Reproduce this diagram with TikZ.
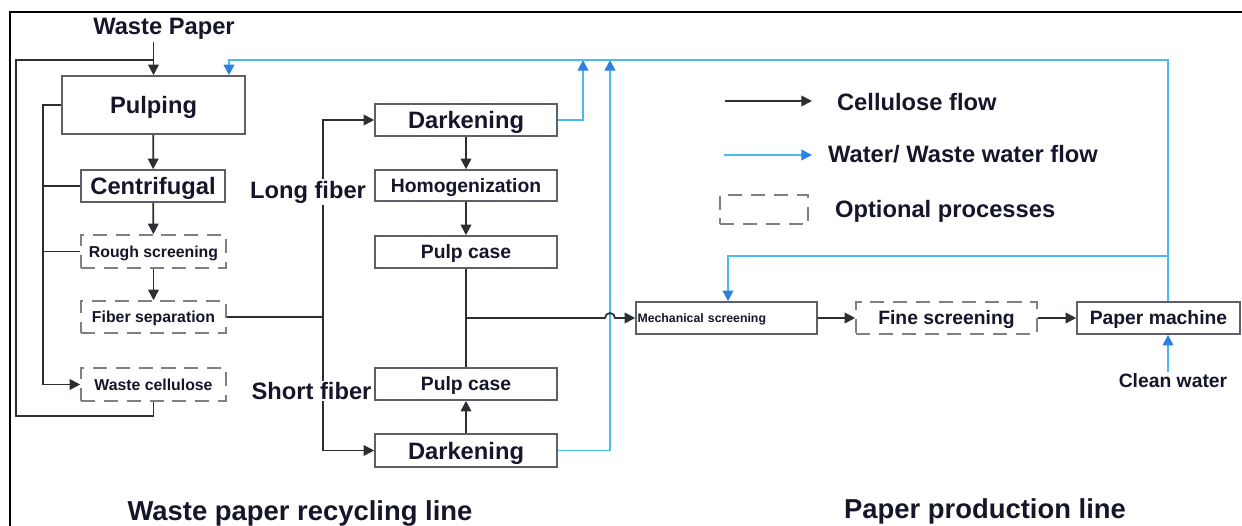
\documentclass[tikz,border=0pt]{standalone}
\usepackage{fontspec}
\setmainfont{Liberation Sans}
\usepackage{xcolor}
\usepackage{tikz}
\usetikzlibrary{arrows.meta}
\definecolor{BoxGray}{HTML}{5B6166}
\definecolor{Ink}{HTML}{2B2E33}
\definecolor{WaterBlue}{HTML}{48BDEB}
\definecolor{TipBlue}{HTML}{2D80E2}
\definecolor{TextInk}{HTML}{15162A}

\begin{document}
\begin{tikzpicture}[x=0.02cm,y=-0.02cm,
  proc/.style={draw=BoxGray,line width=0.9pt,fill=white,inner sep=0pt,text depth=0pt,text=TextInk},
  opt/.style={proc,draw=BoxGray!80,dash pattern=on 8pt off 5pt},
  fbig/.style={font=\bfseries\fontsize{13.5}{16}\selectfont},
  fmid/.style={font=\bfseries\fontsize{11}{13}\selectfont},
  fsmall/.style={font=\bfseries\fontsize{9}{11}\selectfont},
  ftiny/.style={font=\bfseries\fontsize{7}{9}\selectfont},
  title/.style={font=\bfseries\fontsize{15.6}{18}\selectfont,text=TextInk},
  lbl/.style={text=TextInk,inner sep=1pt},
  arr/.style={-{Triangle[length=6pt,width=6pt]},line width=1pt,draw=Ink},
  wline/.style={line width=1pt,draw=WaterBlue},
  warr/.style={wline,-{Triangle[length=6pt,width=6pt,color=TipBlue]}}
]
\useasboundingbox (0,0) rectangle (1242,526);
\draw[line width=1.6pt] (10,526) -- (10,12) -- (1242,12);

% recycling line
\node[lbl,fbig] (wp) at (164,29) {Waste Paper};
\node[proc,fbig,minimum width=3.66cm,minimum height=1.16cm] (pulp) at (153.5,105) {Pulping};
\node[proc,fbig,minimum width=2.88cm,minimum height=0.64cm] (cent) at (153,186) {Centrifugal};
\node[opt,fsmall,minimum width=2.9cm,minimum height=0.66cm] (rough) at (153.5,251.5) {Rough screening};
\node[opt,fsmall,minimum width=2.9cm,minimum height=0.64cm] (fib) at (153.5,317) {Fiber separation};
\node[opt,fsmall,minimum width=2.9cm,minimum height=0.66cm] (wc) at (153.5,384.5) {Waste cellulose};

\node[proc,fbig,minimum width=3.64cm,minimum height=0.64cm] (dk1) at (466,120) {Darkening};
\node[proc,fmid,minimum width=3.64cm,minimum height=0.62cm] (hom) at (466,185.5) {Homogenization};
\node[proc,fmid,minimum width=3.64cm,minimum height=0.64cm] (pc1) at (466,252) {Pulp case};
\node[proc,fmid,minimum width=3.64cm,minimum height=0.64cm] (pc2) at (466,384) {Pulp case};
\node[proc,fbig,minimum width=3.64cm,minimum height=0.66cm] (dk2) at (466,450.5) {Darkening};

% production line
\node[proc,ftiny,minimum width=3.62cm,minimum height=0.64cm,text width=3.56cm,align=left] (mech) at (726.5,318) {Mechanical screening};
\node[opt,fmid,minimum width=3.62cm,minimum height=0.64cm] (fine) at (946.5,318) {Fine screening};
\node[proc,fmid,minimum width=3.26cm,minimum height=0.64cm] (pm) at (1158.5,318) {Paper machine};
\node[lbl,fmid] (cw) at (1173,381) {Clean water};

\coordinate (lo) at (16,416);
\coordinate (lt) at (16,60);
\coordinate (il) at (43,106);
\coordinate (fj) at (323,317);
\coordinate (pj) at (466,318);
\coordinate (hop) at (605,318);
\coordinate (wt1) at (583,60);
\coordinate (wt2) at (610,60);
\coordinate (wl) at (229,60);
\coordinate (wr) at (1168,60);
\coordinate (wm) at (728,256);

\draw[line width=1pt,draw=Ink] (wc.south) |- (lo) -- (lt) -- (lt -| pulp.north);
\draw[arr] (wp.south -| pulp.north) -- (pulp.north);
\draw[arr] (pulp.west) -- (pulp.west -| il) |- (wc.west);
\draw[line width=1pt,draw=Ink] (cent.west) -- (cent.west -| il);
\draw[line width=1pt,draw=Ink] (rough.west) -- (rough.west -| il);
\draw[arr] (pulp) -- (cent);
\draw[arr] (cent) -- (rough);
\draw[arr] (rough) -- (fib);

\draw[line width=1pt,draw=Ink] (fib.east) -- (fj);
\draw[arr] (fj) |- (dk1.west);
\draw[arr] (fj) |- (dk2.west);
\node[lbl,fbig,fill=white] (long) at (308,192) {Long fiber};
\node[lbl,fbig,fill=white] (short) at (311.5,391) {Short fiber};

\draw[arr] (dk1) -- (hom);
\draw[arr] (hom) -- (pc1);
\draw[arr] (dk2) -- (pc2);
\draw[line width=1pt,draw=Ink] (pc1.south) -- (pc2.north);

% water
\draw[warr] (dk1.east) -| (wt1);
\draw[warr] (dk2.east) -| (wt2);
\draw[warr] (wr |- pm.north) -- (wr) -- (wl) -- (wl |- pulp.north);
\draw[warr] (wm -| wr) -- (wm) -- (wm |- mech.north);
\draw[warr] (cw.north -| wr) -- (wr |- pm.south);

\draw[arr] (pj) -- (hop) arc (180:360:5) -- (mech.west);
\draw[arr] (mech) -- (fine);
\draw[arr] (fine) -- (pm);

% legend
\coordinate (lc) at (725,101);
\coordinate (lw) at (724,155);
\draw[arr] (lc) -- ++(87,0);
\draw[warr] (lw) -- ++(88,0);
\node[opt,minimum width=1.76cm,minimum height=0.58cm] (lopt) at (764,209.5) {};
\node[lbl,fbig,anchor=west] (lcell) at (835,102) {Cellulose flow};
\node[lbl,fbig,anchor=west] (lwat) at (826,154) {Water/ Waste water flow};
\node[lbl,fbig,anchor=west] (lopttx) at (833,211) {Optional processes};

\node[title] (t1) at (300,513) {Waste paper recycling line};
\node[title] (t2) at (985,511) {Paper production line};
\end{tikzpicture}
\end{document}
